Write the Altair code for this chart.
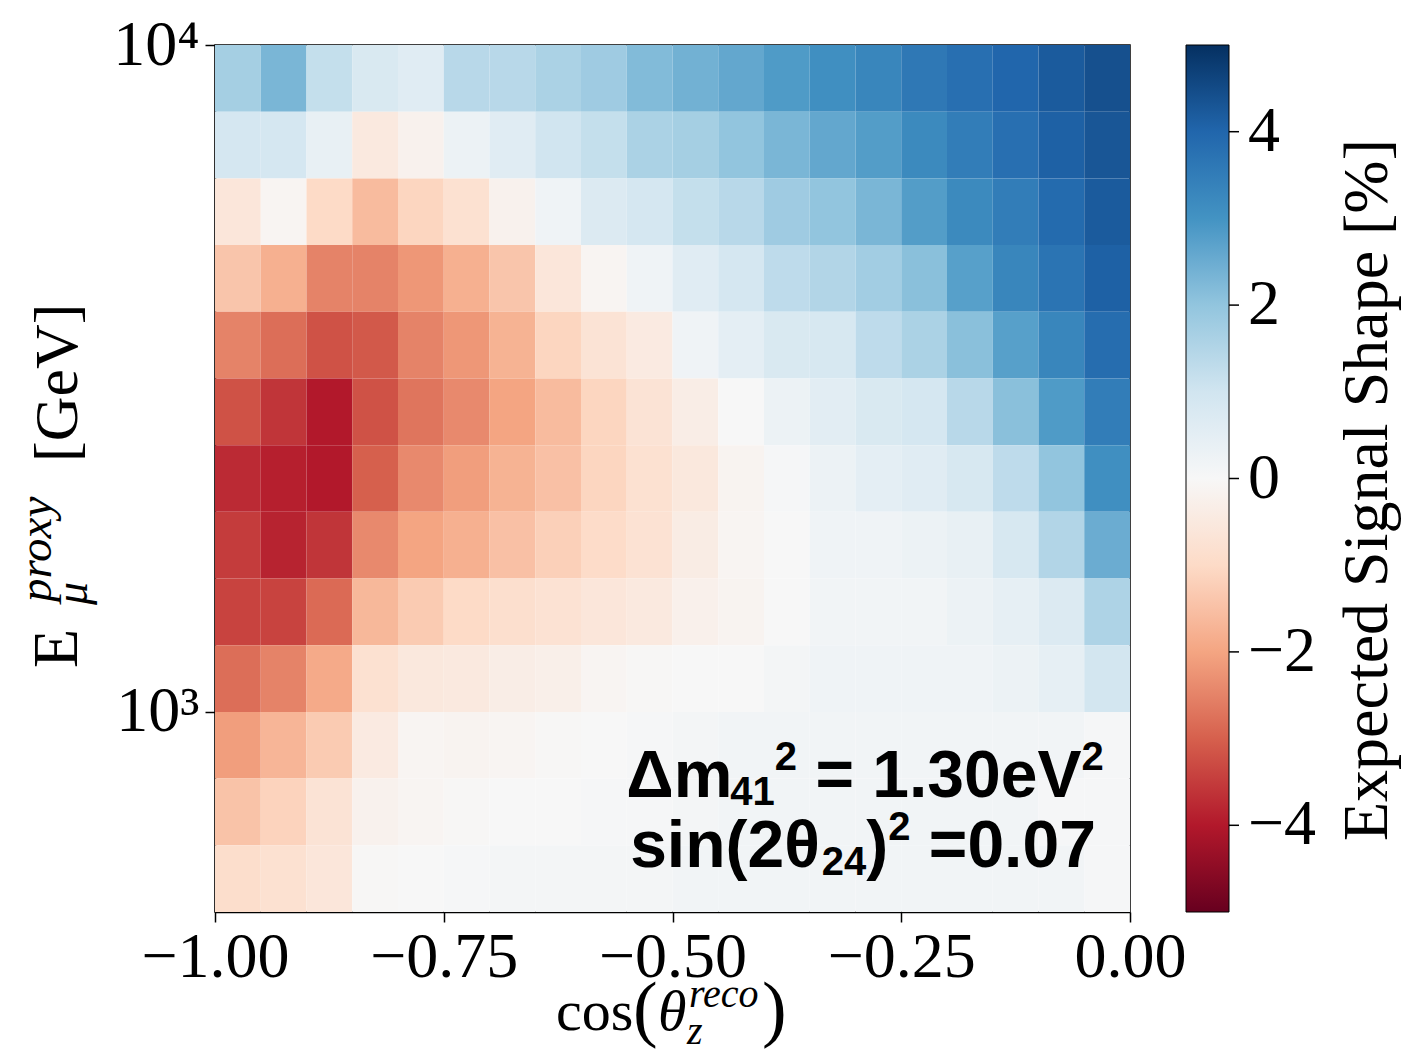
import altair as alt
import pandas as pd

# bin edges
COS_EDGES = [-1.00, -0.95, -0.90, -0.85, -0.80, -0.75, -0.70, -0.65, -0.60, -0.55,
             -0.50, -0.45, -0.40, -0.35, -0.30, -0.25, -0.20, -0.15, -0.10, -0.05, 0.00]
LOG10_E_EDGES = [4.0, 3.9, 3.8, 3.7, 3.6, 3.5, 3.4, 3.3, 3.2, 3.1, 3.0, 2.9, 2.8, 2.7]  # top -> bottom

# expected signal shape [%], rows from highest to lowest energy bin
ROW_00 = [1.7, 2.3, 1.2, 0.8, 0.6, 1.4, 1.4, 1.6, 1.8, 2.2, 2.4, 2.6, 2.85, 3.1, 3.3, 3.6, 3.8, 4.0, 4.2, 4.4]
ROW_01 = [0.9, 0.9, 0.4, -0.5, -0.2, 0.3, 0.6, 1.0, 1.2, 1.6, 1.7, 2.0, 2.3, 2.6, 2.8, 3.2, 3.5, 3.8, 4.1, 4.3]
ROW_02 = [-0.6, -0.1, -1.0, -1.6, -1.1, -0.8, -0.2, 0.2, 0.7, 0.9, 1.2, 1.4, 1.8, 2.0, 2.3, 2.8, 3.2, 3.5, 3.9, 4.2]
ROW_03 = [-1.4, -1.8, -2.5, -2.5, -2.2, -1.8, -1.4, -0.6, -0.1, 0.2, 0.6, 0.9, 1.3, 1.5, 1.75, 2.1, 2.75, 3.3, 3.7, 4.1]
ROW_04 = [-2.5, -2.8, -3.2, -3.1, -2.5, -2.2, -1.75, -1.1, -0.7, -0.45, 0.2, 0.5, 0.8, 0.85, 1.3, 1.6, 2.1, 2.75, 3.3, 3.85]
ROW_05 = [-3.2, -3.6, -4.0, -3.2, -2.7, -2.4, -2.0, -1.6, -1.1, -0.7, -0.35, 0.0, 0.3, 0.55, 0.8, 0.9, 1.4, 2.1, 2.85, 3.5]
ROW_06 = [-3.75, -3.9, -4.0, -3.0, -2.4, -2.1, -1.75, -1.5, -1.1, -0.8, -0.55, -0.15, 0.05, 0.3, 0.5, 0.6, 0.85, 1.3, 2.0, 3.1]
ROW_07 = [-3.5, -3.85, -3.6, -2.4, -2.0, -1.8, -1.5, -1.2, -0.95, -0.75, -0.4, -0.1, 0.0, 0.2, 0.2, 0.3, 0.4, 0.85, 1.5, 2.5]
ROW_08 = [-3.4, -3.4, -2.85, -1.65, -1.3, -1.0, -0.85, -0.75, -0.6, -0.5, -0.25, -0.15, 0.0, 0.15, 0.15, 0.15, 0.3, 0.45, 0.7, 1.55]
ROW_09 = [-2.8, -2.5, -1.9, -0.8, -0.55, -0.5, -0.35, -0.3, -0.1, -0.05, 0.0, 0.0, 0.1, 0.2, 0.2, 0.2, 0.2, 0.3, 0.45, 0.95]
ROW_10 = [-2.1, -1.7, -1.3, -0.45, -0.1, -0.15, -0.1, -0.05, 0.0, 0.05, 0.1, 0.15, 0.15, 0.15, 0.15, 0.15, 0.15, 0.15, 0.15, 0.05]
ROW_11 = [-1.45, -1.15, -0.7, -0.2, -0.1, -0.05, 0.0, 0.0, 0.05, 0.05, 0.1, 0.15, 0.15, 0.15, 0.15, 0.15, 0.15, 0.15, 0.05, 0.05]
ROW_12 = [-0.9, -0.8, -0.6, -0.05, 0.0, 0.05, 0.1, 0.1, 0.1, 0.1, 0.15, 0.15, 0.15, 0.15, 0.15, 0.15, 0.15, 0.15, 0.15, 0.05]
VALUES = [ROW_00, ROW_01, ROW_02, ROW_03, ROW_04, ROW_05, ROW_06, ROW_07,
          ROW_08, ROW_09, ROW_10, ROW_11, ROW_12]

COLORBAR_TICKS = [-4, -2, 0, 2, 4]
X_TICKS = [-1.0, -0.75, -0.5, -0.25, 0.0]
Y_TICKS = [1000, 10000]

# RdBu colour map stops (value -> colour)
CMAP_VALUES = [-5, -4, -3, -2, -1, 0, 1, 2, 3, 4, 5]
CMAP_COLORS = ["#67001f", "#b2182b", "#d6604d", "#f4a582", "#fddbc7", "#f7f7f7",
               "#d1e5f0", "#92c5de", "#4393c3", "#2166ac", "#053061"]

records = []
for j, row in enumerate(VALUES):
    e_hi = 10 ** LOG10_E_EDGES[j]
    e_lo = 10 ** LOG10_E_EDGES[j + 1]
    for i, v in enumerate(row):
        records.append({"x0": COS_EDGES[i], "x1": COS_EDGES[i + 1],
                        "e0": e_lo, "e1": e_hi, "v": v})
df = pd.DataFrame(records)

W, H = 915, 867
SERIF = "Liberation Serif"
SANS = "Liberation Sans"

color_scale = alt.Scale(domain=CMAP_VALUES, range=CMAP_COLORS, interpolate="rgb")

heat = alt.Chart(df).mark_rect(strokeWidth=0).encode(
    x=alt.X("x0:Q",
            scale=alt.Scale(domain=[-1, 0], nice=False, zero=False),
            axis=alt.Axis(values=X_TICKS, format=".2f", title=None, grid=False,
                          labelFont=SERIF, labelFontSize=64, labelColor="black",
                          labelFlush=False, labelPadding=3,
                          tickColor="black", tickSize=10, tickWidth=1.5,
                          domainColor="black", domainWidth=1.5)),
    x2="x1:Q",
    y=alt.Y("e0:Q",
            scale=alt.Scale(type="log", domain=[10 ** 2.7, 10 ** 4], nice=False),
            axis=alt.Axis(values=Y_TICKS, title=None, grid=False,
                          labelExpr="datum.value >= 5000 ? '10\u2074' : '10\u00b3'",
                          labelFont=SERIF, labelFontSize=64, labelColor="black",
                          labelPadding=6,
                          tickColor="black", tickSize=10, tickWidth=1.5,
                          domainColor="black", domainWidth=1.5)),
    y2="e1:Q",
    color=alt.Color("v:Q", scale=color_scale,
                    legend=alt.Legend(type="gradient", orient="none",
                                      legendX=971, legendY=0,
                                      direction="vertical", title=None,
                                      gradientLength=H, gradientThickness=43,
                                      values=COLORBAR_TICKS, format="d",
                                      labelOverlap=False,
                                      labelFont=SERIF, labelFontSize=64,
                                      labelColor="black", labelOffset=19,
                                      gradientStrokeColor="black",
                                      gradientStrokeWidth=1, padding=0)),
)

# colorbar tick marks, placed through their own linear scale spanning the bar
cbar_ticks = alt.Chart(pd.DataFrame({"v": COLORBAR_TICKS})).mark_rule(
    color="black", strokeWidth=1.5
).encode(
    x=alt.value(1014), x2=alt.value(1024),
    y=alt.Y("v:Q", scale=alt.Scale(domain=[-5, 5], nice=False, zero=False), axis=None),
)


def txt(s, x, y, size, font=SERIF, style="normal", weight="normal",
        angle=0, align="left", baseline="alphabetic"):
    return alt.Chart(pd.DataFrame({"t": [s]})).mark_text(
        font=font, fontSize=size, fontStyle=style, fontWeight=weight,
        angle=angle, align=align, baseline=baseline, color="black",
    ).encode(x=alt.value(x), y=alt.value(y), text="t:N")


# approximate advance widths (em) for the bold sans annotation
ADV = {"\u0394": 0.667, "m": 0.889, "4": 0.556, "1": 0.556, "2": 0.556,
       "=": 0.584, ".": 0.278, "3": 0.556, "0": 0.556, "e": 0.556, "V": 0.667,
       "s": 0.556, "i": 0.278, "n": 0.611, "(": 0.333, ")": 0.333,
       "\u03b8": 0.57, "7": 0.556}
SPACE_EM = 0.278


def rich_line(pieces, center_x, baseline_y, big):
    """pieces: list of (text, size, dy, gap_before_in_em_of_big)"""
    widths = [sum(ADV.get(c, 0.556) for c in t) * s + g * big
              for t, s, dy, g in pieces]
    x = center_x - sum(widths) / 2
    out = []
    for (t, s, dy, g), w in zip(pieces, widths):
        out.append(txt(t, x + g * big, baseline_y + dy, s, font=SANS, weight="bold"))
        x += w
    return out


layers = [heat, cbar_ticks]

BIG, SMALL = 66, 40
SUB, SUP = 8, -27
layers += rich_line([("\u0394m", BIG, 0, 0), ("41", SMALL, SUB, 0.02),
                     ("2", SMALL, SUP, 0), ("=", BIG, 0, SPACE_EM),
                     ("1.30eV", BIG, 0, SPACE_EM), ("2", SMALL, SUP, 0)],
                    650, 752, BIG)
layers += rich_line([("sin(2\u03b8", BIG, 0, 0), ("24", SMALL, SUB, 0.0),
                     (")", BIG, 0, 0), ("2", SMALL, SUP, 0),
                     ("=0.07", BIG, 0, SPACE_EM)],
                    648, 822, BIG)

# x-axis title: cos(theta_z^reco)
layers.append(txt("cos", 341, 985, 58))
layers.append(txt("(", 418, 988, 74))
layers.append(txt("\u03b8", 443, 985, 58, style="italic"))
layers.append(txt("reco", 474, 962, 40, style="italic"))
layers.append(txt("z", 472, 999, 40, style="italic"))
layers.append(txt(")", 547, 988, 74))

# y-axis title: E_mu^proxy [GeV]  (rotated)
layers.append(txt("E", -138, 623, 64, angle=270))
layers.append(txt("proxy", -164, 557, 47, style="italic", angle=270))
layers.append(txt("\u03bc", -128, 560, 46, style="italic", angle=270))
layers.append(txt("[GeV]", -138, 417, 62, angle=270))

# colorbar title
layers.append(txt("Expected Signal Shape [%]", 1172, 445, 64, angle=270,
                  align="center"))

chart = alt.layer(*layers).resolve_scale(y="independent").properties(
    width=W, height=H,
    autosize=alt.AutoSizeParams(type="none"),
    padding={"left": 215, "top": 45, "right": 278, "bottom": 140},
    background="white",
).configure_view(stroke="black", strokeWidth=1.5)

chart.save("out.html", embed_options={"renderer": "svg", "actions": False})
